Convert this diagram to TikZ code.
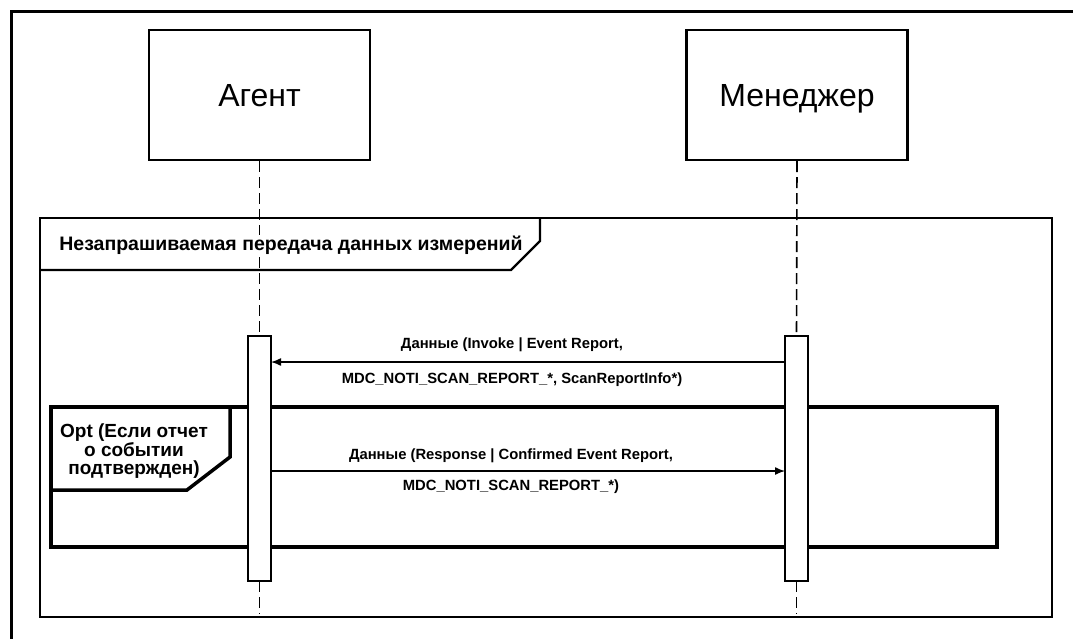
\documentclass[tikz,border=0pt]{standalone}
\usepackage{fontspec}
\setmainfont{Liberation Sans}
\usetikzlibrary{arrows.meta,calc}
\begin{document}
\begin{tikzpicture}[x=1pt,y=-1pt,
  actor/.style={draw,line width=2.2pt,minimum width=221pt,minimum height=130pt,
    text height=24pt,text depth=2pt,font=\fontsize{32}{34}\selectfont},
  actbar/.style={draw,line width=2pt,fill=white,minimum width=21pt,minimum height=243pt,inner sep=0pt},
  lifeline/.style={line width=1.6pt,dash pattern=on 11pt off 5pt},
  frameline/.style={line width=2.4pt},
  optline/.style={line width=3.5pt},
  msg/.style={line width=1.4pt,-{Latex[length=10pt,width=8pt]}},
  lbl/.style={font=\fontsize{14.8}{16}\selectfont\bfseries,inner sep=0pt},
  tablbl/.style={font=\fontsize{19.5}{21}\selectfont\bfseries,inner sep=1pt,fill=white},
  optlbl/.style={font=\fontsize{19}{18.5}\selectfont\bfseries,inner sep=0pt,align=center},
]
\useasboundingbox (0,0) rectangle (1073,638);
% outer border
\draw[line width=3pt] (11,1000) -- (11,11) -- (1100,11);

% participants
\node[actor] (agent) at (259.5,95) {Агент};
\node[actor] (mgr) at (797,95) {Менеджер};

% activation bars
\node[actbar,anchor=north] (abar) at (259.5,336) {};
\node[actbar,anchor=north] (mbar) at (796.5,336) {};

% lifelines
\draw[lifeline] (agent.south) -- (abar.north);
\draw[lifeline] (mgr.south) -- (mbar.north);
\coordinate (aend) at (259.5,614);
\coordinate (mend) at (796.5,614);
\draw[lifeline] (abar.south) -- (aend);
\draw[lifeline] (mbar.south) -- (mend);

% interaction frame
\draw[frameline] (40,218) rectangle (1052,617);
\draw[frameline] (40,270) -- (511,270) -- (540,241) -- (540,218);
\node[tablbl] (sdtitle) at (291,245) {Незапрашиваемая передача данных измерений};

% optional fragment
\draw[optline] (51,407) rectangle (997,547);
\draw[optline] (51,490) -- (187,490) -- (230,457) -- (230,407);
\node[optlbl] (optlbl) at (134,451.5)
  {Opt (Если отчет\\о событии\\подтвержден)};
\draw[line width=2pt,fill=white] (abar.north west) rectangle (abar.south east);
\draw[line width=2pt,fill=white] (mbar.north west) rectangle (mbar.south east);

% messages
\coordinate (m1s) at (mbar.west |- 0,362);
\coordinate (m1e) at (abar.east |- 0,362);
\draw[msg] (m1s) -- (m1e);
\node[lbl] (m1a) at (512,345) {Данные (Invoke | Event Report,};
\node[lbl] (m1b) at (512,380) {MDC\_NOTI\_SCAN\_REPORT\_*, ScanReportInfo*)};

\coordinate (m2s) at (abar.east |- 0,471);
\coordinate (m2e) at (mbar.west |- 0,471);
\draw[msg] (m2s) -- (m2e);
\node[lbl] (m2a) at (511,456) {Данные (Response | Confirmed Event Report,};
\node[lbl] (m2b) at (511,487) {MDC\_NOTI\_SCAN\_REPORT\_*)};
\end{tikzpicture}
\end{document}
